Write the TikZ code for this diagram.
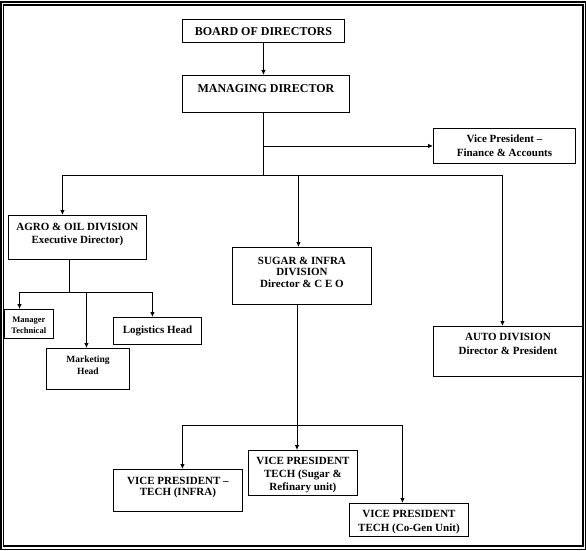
\documentclass[tikz,border=0pt]{standalone}
\usepackage{fontspec}
\setmainfont{Liberation Serif}
\usetikzlibrary{arrows.meta}

% box text: width, height, first baseline from top, text
\newcommand{\cell}[4]{\parbox[c][#2][t]{#1}{\centering\bfseries\rule{0pt}{#3}#4\par}}

\begin{document}
\begin{tikzpicture}[x=1pt, y=-1pt, line width=0.8pt,
  orgbox/.style={draw, line width=0.9pt, inner sep=0pt, anchor=north west},
  arr/.style={-{Latex[length=5pt,width=4.5pt]}}]
  \useasboundingbox (0,0) rectangle (586,551);
  % page frame
  \draw[line width=1.4pt] (1,2) rectangle (585.3,549.3);
  \draw[line width=1.2pt] (3.7,5) rectangle (583,546);

  % top
  \node[orgbox, font=\fontsize{12}{14}\selectfont] (board) at (182,19)
    {\cell{162pt}{23pt}{16pt}{BOARD OF DIRECTORS}};
  \node[orgbox, font=\fontsize{12}{14}\selectfont] (md) at (182,75)
    {\cell{167pt}{37pt}{17pt}{MANAGING DIRECTOR}};
  \node[orgbox, font=\fontsize{11}{14}\selectfont] (vpf) at (433,128)
    {\cell{142pt}{35pt}{14pt}{Vice President --\\Finance \& Accounts}};

  % divisions
  \node[orgbox, font=\fontsize{11}{13}\selectfont] (agro) at (8,215)
    {\cell{138pt}{44pt}{15pt}{AGRO \& OIL DIVISION\\Executive Director)}};
  \node[orgbox, font=\fontsize{11}{11.5}\selectfont] (sugar) at (232,247)
    {\cell{139pt}{57pt}{17pt}{SUGAR \& INFRA\\DIVISION\\Director \& C E O}};
  \node[orgbox, font=\fontsize{11}{14}\selectfont] (auto) at (433,326)
    {\cell{149pt}{50pt}{14pt}{AUTO DIVISION\\Director \& President}};

  % agro heads
  \node[orgbox, font=\fontsize{8.5}{11}\selectfont] (mgr) at (3.7,309)
    {\cell{49.3pt}{29pt}{13pt}{Manager\\Technical}};
  \node[orgbox, font=\fontsize{9.5}{12.5}\selectfont] (mkt) at (46,348)
    {\cell{83pt}{41pt}{14pt}{Marketing\\Head}};
  \node[orgbox, font=\fontsize{11}{13}\selectfont] (log) at (113,317)
    {\cell{88pt}{27pt}{16pt}{Logistics Head}};

  % sugar vice presidents
  \node[orgbox, font=\fontsize{11}{11}\selectfont] (vpinfra) at (113,469)
    {\cell{129pt}{42pt}{15pt}{VICE PRESIDENT --\\TECH (INFRA)}};
  \node[orgbox, font=\fontsize{11}{13}\selectfont] (vpsugar) at (248,450)
    {\cell{109pt}{45pt}{14pt}{VICE PRESIDENT\\TECH (Sugar \&\\Refinary unit)}};
  \node[orgbox, font=\fontsize{11}{14}\selectfont] (cogen) at (349,503)
    {\cell{119pt}{33pt}{14pt}{VICE PRESIDENT\\TECH (Co-Gen Unit)}};

  % connectors
  \coordinate (mdjoin) at (263,175);
  \coordinate (agrojoin) at (69,292);
  \coordinate (sugarjoin) at (297,425);

  \draw[arr] (board.south) -- (board.south |- md.north);
  \draw (md.south -| mdjoin) -- (mdjoin);
  \draw[arr] (mdjoin |- vpf.west) -- (vpf.west);
  \draw[arr] (mdjoin) -| ([xshift=-15pt]agro.north);
  \draw[arr] (mdjoin) -| ([xshift=-3.5pt]sugar.north);
  \draw[arr] (mdjoin) -| ([xshift=-5.5pt]auto.north);

  \draw (agro.south -| agrojoin) -- (agrojoin);
  \draw[arr] (agrojoin) -| ([xshift=-9.3pt]mgr.north);
  \draw[arr] (agrojoin) -| ([xshift=-1.5pt]mkt.north);
  \draw[arr] (agrojoin) -| ([xshift=-5pt]log.north);

  \draw (sugar.south -| sugarjoin) -- (sugarjoin);
  \draw[arr] (sugarjoin) -| ([xshift=4.5pt]vpinfra.north);
  \draw[arr] (sugarjoin) -- (sugarjoin |- vpsugar.north);
  \draw[arr] (sugarjoin) -| ([xshift=-6.5pt]cogen.north);
\end{tikzpicture}
\end{document}
